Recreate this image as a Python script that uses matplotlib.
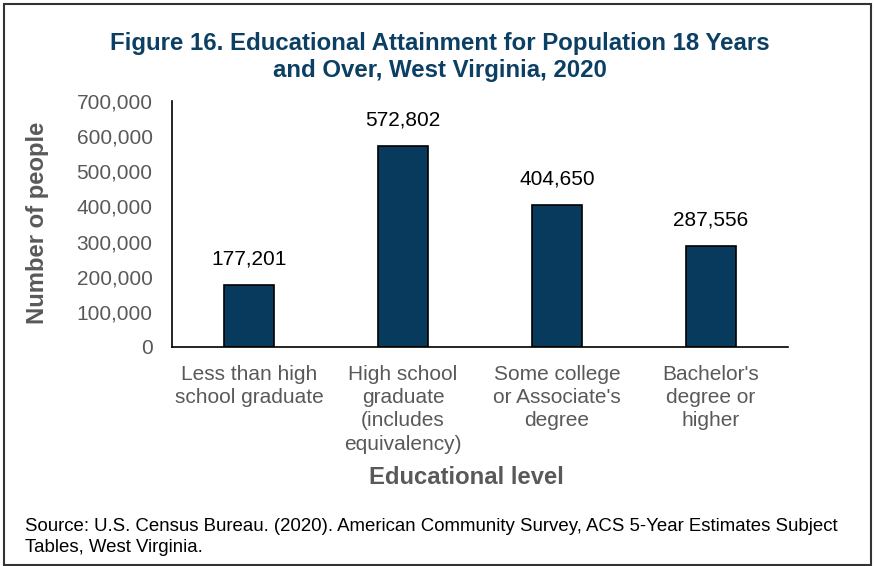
import matplotlib.pyplot as plt
from matplotlib.patches import Rectangle

plt.rcParams['font.family'] = ['Liberation Sans', 'DejaVu Sans']

levels = ["Less than high\nschool graduate",
          "High school\ngraduate\n(includes\nequivalency)",
          "Some college\nor Associate's\ndegree",
          "Bachelor's\ndegree or\nhigher"]
people = [177201, 572802, 404650, 287556]
yticks = [0, 100000, 200000, 300000, 400000, 500000, 600000, 700000]

navy = '#073a5c'
gray = '#595959'

W, H = 875, 566
fig = plt.figure(figsize=(W / 100, H / 100), dpi=100)
ax = fig.add_axes([172 / W, 1 - 347 / H, (788 - 172) / W, (347 - 101) / H])

x = range(len(levels))
ax.bar(x, people, width=0.32, color=navy, edgecolor='black', linewidth=1.2)
for i, v in zip(x, people):
    ax.annotate(f"{v:,}", (i, v), xytext=(0, 12), textcoords='offset points',
                ha='center', va='bottom', fontsize=15, color='black')

ax.set_xlim(-0.5, len(levels) - 0.5)
ax.set_ylim(0, 700000)
ax.set_yticks(yticks)
ax.set_yticklabels([f"{t:,}" for t in yticks], fontsize=15, color=gray)
ax.set_xticks(list(x))
ax.set_xticklabels(levels, fontsize=15, color=gray, linespacing=1.28)
ax.tick_params(axis='y', length=0, pad=14)
ax.tick_params(axis='x', length=0, pad=13)
for s in ['top', 'right']:
    ax.spines[s].set_visible(False)
for s in ['left', 'bottom']:
    ax.spines[s].set_color('black')
    ax.spines[s].set_linewidth(1.2)

fig.text(440 / W, 1 - 57 / H, "Figure 16. Educational Attainment for Population 18 Years\nand Over, West Virginia, 2020",
         ha='center', va='center', fontsize=17.3, fontweight='bold', color='#0b3f63', linespacing=1.18)
fig.text(38 / W, 1 - 223 / H, "Number of people", rotation=90, ha='center', va='center',
         fontsize=17.2, fontweight='bold', color=gray)
fig.text(466 / W, 1 - 477 / H, "Educational level", ha='center', va='center',
         fontsize=17.2, fontweight='bold', color=gray)
fig.text(25 / W, 1 - 537 / H,
         "Source: U.S. Census Bureau. (2020). American Community Survey, ACS 5-Year Estimates Subject\nTables, West Virginia.",
         ha='left', va='center', fontsize=13.4, color='black', linespacing=1.28)

fig.patches.append(Rectangle((4 / W, 1 - 565 / H), 867 / W, 561 / H, transform=fig.transFigure,
                             fill=False, edgecolor='#333333', linewidth=1.5))

fig.savefig('out.png', dpi=100)
